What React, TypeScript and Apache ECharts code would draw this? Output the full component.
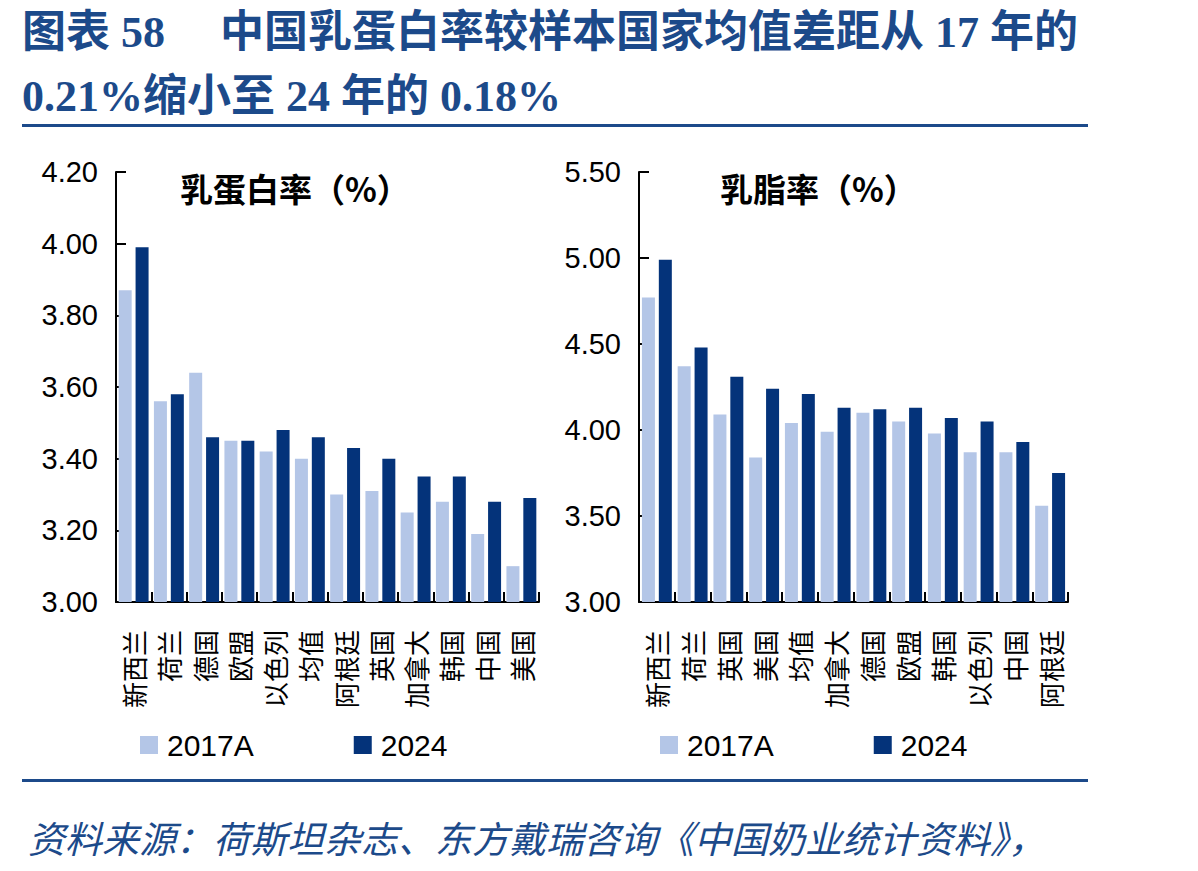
import React, { useEffect, useRef } from "react";
import * as echarts from "echarts";

const proteinCategories = ["新西兰", "荷兰", "德国", "欧盟", "以色列", "均值", "阿根廷", "英国", "加拿大", "韩国", "中国", "美国"];
const protein2017 = [3.87, 3.56, 3.64, 3.45, 3.42, 3.40, 3.30, 3.31, 3.25, 3.28, 3.19, 3.10];
const protein2024 = [3.99, 3.58, 3.46, 3.45, 3.48, 3.46, 3.43, 3.40, 3.35, 3.35, 3.28, 3.29];

const fatCategories = ["新西兰", "荷兰", "英国", "美国", "均值", "加拿大", "德国", "欧盟", "韩国", "以色列", "中国", "阿根廷"];
const fat2017 = [4.77, 4.37, 4.09, 3.84, 4.04, 3.99, 4.10, 4.05, 3.98, 3.87, 3.87, 3.56];
const fat2024 = [4.99, 4.48, 4.31, 4.24, 4.21, 4.13, 4.12, 4.13, 4.07, 4.05, 3.93, 3.75];

const seriesNames = ["2017A", "2024"];
const titleText = "图表 58\u3000 中国乳蛋白率较样本国家均值差距从 17 年的\n0.21%缩小至 24 年的 0.18%";
const leftTitle = "乳蛋白率（%）";
const rightTitle = "乳脂率（%）";
const sourceText = "资料来源：荷斯坦杂志、东方戴瑞咨询《中国奶业统计资料》，";

const LIGHT = "#B4C6E7";
const DARK = "#04337A";
const BLUE = "#1C4A8A";
const NUM_FONT = "'Liberation Sans Narrow', 'Liberation Sans', Arial, sans-serif";
const CJK_FONT = "'Noto Sans CJK SC', sans-serif";

export default function App() {
  const ref = useRef<HTMLDivElement>(null);

  useEffect(() => {
    if (!ref.current) return;
    const chart = echarts.init(ref.current, undefined, { renderer: "svg" });

    const xAxisBase = (data: string[], gridIndex: number) => ({
      type: "category" as const,
      gridIndex,
      data,
      axisLine: { show: true, lineStyle: { color: "#000", width: 2 } },
      axisTick: { show: true, inside: true, length: 10, alignWithLabel: false, lineStyle: { color: "#000", width: 2 } },
      axisLabel: {
        interval: 0,
        rotate: 90,
        margin: 28,
        fontSize: 26,
        color: "#000",
        fontFamily: CJK_FONT,
      },
    });

    const yAxisBase = (gridIndex: number, min: number, max: number, interval: number) => ({
      type: "value" as const,
      gridIndex,
      min,
      max,
      interval,
      splitLine: { show: false },
      axisLine: { show: true, lineStyle: { color: "#000", width: 2 } },
      axisTick: { show: true, inside: true, length: 10, lineStyle: { color: "#000", width: 2 } },
      axisLabel: {
        margin: 18,
        fontSize: 29,
        color: "#000",
        fontFamily: NUM_FONT,
        formatter: (v: number) => v.toFixed(2),
      },
    });

    const legendBase = (left: number) => ({
      left,
      top: 730,
      padding: 0,
      orient: "horizontal" as const,
      icon: "rect",
      itemWidth: 18,
      itemHeight: 18,
      itemGap: 100,
      data: seriesNames,
      textStyle: { fontSize: 30, color: "#000", fontFamily: "'Liberation Sans', Arial, sans-serif", padding: [0, 0, 0, 4] },
    });

    const barBase = { type: "bar" as const, barWidth: 13, barGap: "30%" };

    chart.setOption({
      animation: false,
      backgroundColor: "#fff",
      title: [
        {
          text: titleText,
          left: 22,
          top: 0,
          padding: 0,
          textStyle: {
            fontSize: 44,
            fontWeight: "bold",
            color: BLUE,
            lineHeight: 64,
            fontFamily: "'Liberation Serif', 'Noto Sans CJK SC', serif",
          },
        },
        {
          text: leftTitle,
          left: 180,
          top: 171,
          padding: 0,
          textStyle: { fontSize: 33, fontWeight: "bold", color: "#000", fontFamily: CJK_FONT },
        },
        {
          text: rightTitle,
          left: 720,
          top: 171,
          padding: 0,
          textStyle: { fontSize: 33, fontWeight: "bold", color: "#000", fontFamily: CJK_FONT },
        },
        {
          text: sourceText,
          left: 28,
          top: 818,
          padding: 0,
          textStyle: { fontSize: 37, fontWeight: "normal", fontStyle: "italic", color: BLUE, fontFamily: CJK_FONT },
        },
      ],
      graphic: [
        { type: "rect", shape: { x: 22, y: 124, width: 1066, height: 3 }, style: { fill: BLUE } },
        { type: "rect", shape: { x: 22, y: 779, width: 1066, height: 3 }, style: { fill: BLUE } },
      ],
      legend: [legendBase(140), legendBase(660)],
      grid: [
        { left: 116, top: 172, width: 423, height: 430, containLabel: false },
        { left: 639, top: 172, width: 429, height: 430, containLabel: false },
      ],
      xAxis: [xAxisBase(proteinCategories, 0), xAxisBase(fatCategories, 1)],
      yAxis: [yAxisBase(0, 3.0, 4.2, 0.2), yAxisBase(1, 3.0, 5.5, 0.5)],
      series: [
        { ...barBase, name: seriesNames[0], xAxisIndex: 0, yAxisIndex: 0, data: protein2017, itemStyle: { color: LIGHT } },
        { ...barBase, name: seriesNames[1], xAxisIndex: 0, yAxisIndex: 0, data: protein2024, itemStyle: { color: DARK } },
        { ...barBase, name: seriesNames[0], xAxisIndex: 1, yAxisIndex: 1, data: fat2017, itemStyle: { color: LIGHT } },
        { ...barBase, name: seriesNames[1], xAxisIndex: 1, yAxisIndex: 1, data: fat2024, itemStyle: { color: DARK } },
      ],
    });

    return () => chart.dispose();
  }, []);

  return (
    <div
      ref={ref}
      style={{ position: "absolute", left: 0, top: 0, width: 1198, height: 871, background: "#fff" }}
    />
  );
}
